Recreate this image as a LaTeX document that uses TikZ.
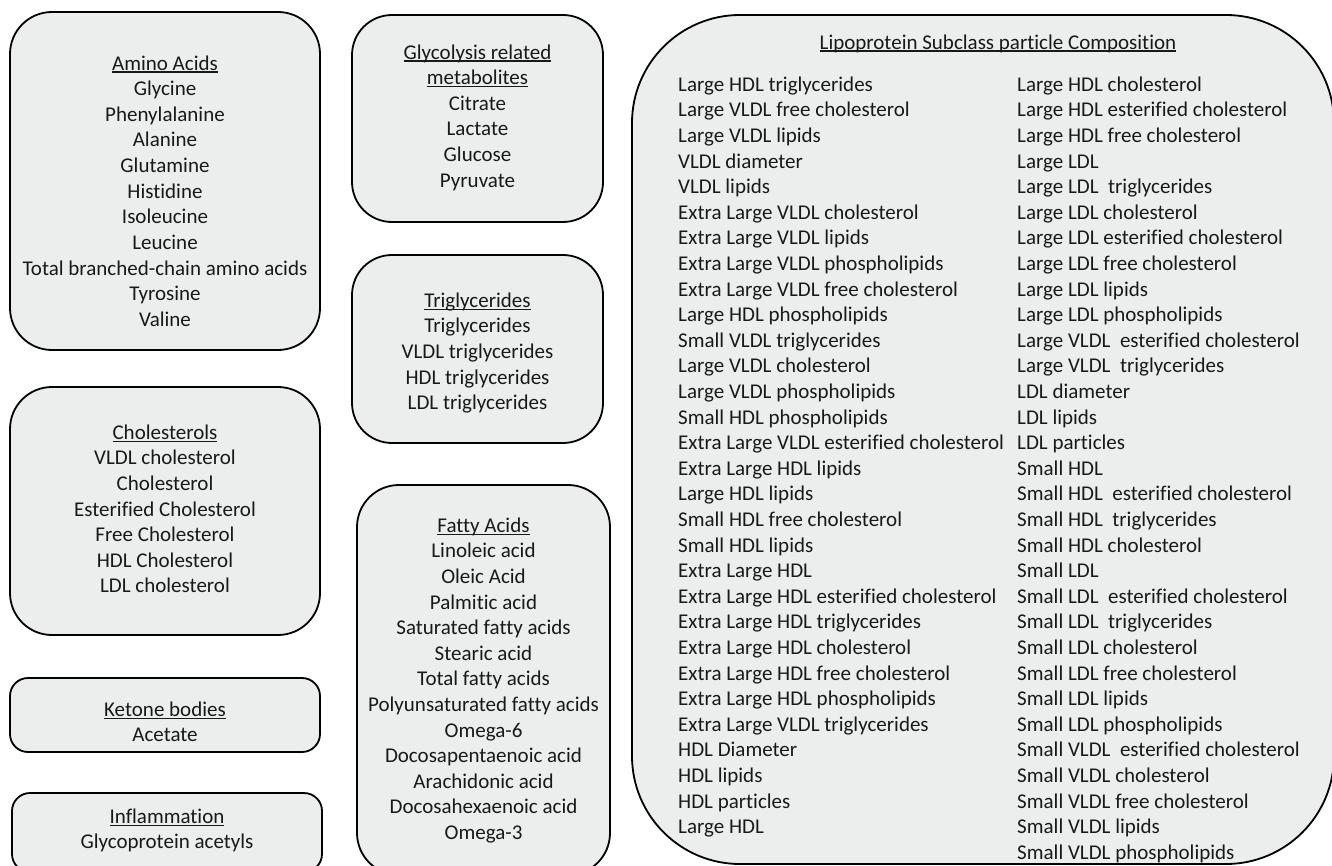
\documentclass[tikz,border=0pt]{standalone}
\usepackage{fontspec}
\setmainfont{Carlito}[Ligatures={NoCommon}]
\definecolor{boxfill}{RGB}{236,237,237}
\definecolor{txt}{RGB}{25,25,25}
\newsavebox\ulbox
\newcommand\myul[1]{\sbox\ulbox{#1}\rlap{\rule[-2.6pt]{\wd\ulbox}{1.3pt}}\usebox\ulbox}
\newcommand\fl{\rule{0pt}{18pt}}
\tikzset{
  panel/.style={draw=black, line width=1.8pt, fill=boxfill, inner sep=0pt, rectangle},
  lbl/.style={inner sep=0pt, font=\fontsize{21}{25.6}\selectfont, text=txt, align=center, anchor=north},
  col/.style={inner sep=0pt, font=\fontsize{21}{25.6}\selectfont, text=txt, align=left, anchor=north west},
}
\begin{document}
\begin{tikzpicture}[x=1pt,y=-1pt]
\useasboundingbox (0,0) rectangle (1332,866);
\clip (0,0) rectangle (1332,866);
\fill[white] (0,0) rectangle (1332,866);
% panels
\node[panel, rounded corners=42pt, minimum width=310pt, minimum height=338pt] (amino) at (165,181) {};
\node[panel, rounded corners=42pt, minimum width=310pt, minimum height=248pt] (chol) at (165,511) {};
\node[panel, rounded corners=18pt, minimum width=310pt, minimum height=74pt] (keto) at (165,715) {};
\node[panel, rounded corners=18pt, minimum width=310pt, minimum height=79pt] (infl) at (167,832.5) {};
\node[panel, rounded corners=40pt, minimum width=251pt, minimum height=207pt] (glyc) at (477.5,118.5) {};
\node[panel, rounded corners=40pt, minimum width=251pt, minimum height=188pt] (trig) at (477.5,349) {};
\node[panel, rounded corners=42pt, minimum width=253pt, minimum height=390pt] (fatty) at (483.5,680) {};
\node[panel, rounded corners=108pt, minimum width=702pt, minimum height=849pt] (lipo) at (983,439.5) {};
% texts
\node[lbl] (aminot) at (165,52) {\fl\myul{Amino Acids}\\Glycine\\Phenylalanine\\Alanine\\Glutamine\\Histidine\\Isoleucine\\Leucine\\Total branched-chain amino acids\\Tyrosine\\Valine};
\node[lbl] (cholt) at (165,421) {\fl\myul{Cholesterols}\\VLDL cholesterol\\Cholesterol\\Esterified Cholesterol\\Free Cholesterol\\HDL Cholesterol\\LDL cholesterol};
\node[lbl] (ketot) at (165,698) {\fl\myul{Ketone bodies}\\Acetate};
\node[lbl] (inflt) at (167,805) {\fl\myul{Inflammation}\\Glycoprotein acetyls};
\node[lbl] (glyct) at (477.5,41) {\fl\myul{Glycolysis related}\\\myul{metabolites}\\Citrate\\Lactate\\Glucose\\Pyruvate};
\node[lbl] (trigt) at (477.5,289) {\fl\myul{Triglycerides}\\Triglycerides\\VLDL triglycerides\\HDL triglycerides\\LDL triglycerides};
\node[lbl] (fattyt) at (483.5,514) {\fl\myul{Fatty Acids}\\Linoleic acid\\Oleic Acid\\Palmitic acid\\Saturated fatty acids\\Stearic acid\\Total fatty acids\\Polyunsaturated fatty acids\\Omega-6\\Docosapentaenoic acid\\Arachidonic acid\\Docosahexaenoic acid\\Omega-3};
\node[lbl] (lipot) at (998,31) {\fl\myul{Lipoprotein Subclass particle Composition}};
\node[col] (lipoa) at (678,73) {\fl Large HDL triglycerides\\Large VLDL free cholesterol\\Large VLDL lipids\\VLDL diameter\\VLDL lipids\\Extra Large VLDL cholesterol\\Extra Large VLDL lipids\\Extra Large VLDL phospholipids\\Extra Large VLDL free cholesterol\\Large HDL phospholipids\\Small VLDL triglycerides\\Large VLDL cholesterol\\Large VLDL phospholipids\\Small HDL phospholipids\\Extra Large VLDL esterified cholesterol\\Extra Large HDL lipids\\Large HDL lipids\\Small HDL free cholesterol\\Small HDL lipids\\Extra Large HDL\\Extra Large HDL esterified cholesterol\\Extra Large HDL triglycerides\\Extra Large HDL cholesterol\\Extra Large HDL free cholesterol\\Extra Large HDL phospholipids\\Extra Large VLDL triglycerides\\HDL Diameter\\HDL lipids\\HDL particles\\Large HDL};
\node[col] (lipob) at (1017,73) {\fl Large HDL cholesterol\\Large HDL esterified cholesterol\\Large HDL free cholesterol\\Large LDL\\Large LDL\ \ triglycerides\\Large LDL cholesterol\\Large LDL esterified cholesterol\\Large LDL free cholesterol\\Large LDL lipids\\Large LDL phospholipids\\Large VLDL\ \ esterified cholesterol\\Large VLDL\ \ triglycerides\\LDL diameter\\LDL lipids\\LDL particles\\Small HDL\\Small HDL\ \ esterified cholesterol\\Small HDL\ \ triglycerides\\Small HDL cholesterol\\Small LDL\\Small LDL\ \ esterified cholesterol\\Small LDL\ \ triglycerides\\Small LDL cholesterol\\Small LDL free cholesterol\\Small LDL lipids\\Small LDL phospholipids\\Small VLDL\ \ esterified cholesterol\\Small VLDL cholesterol\\Small VLDL free cholesterol\\Small VLDL lipids\\Small VLDL phospholipids};
\end{tikzpicture}
\end{document}
